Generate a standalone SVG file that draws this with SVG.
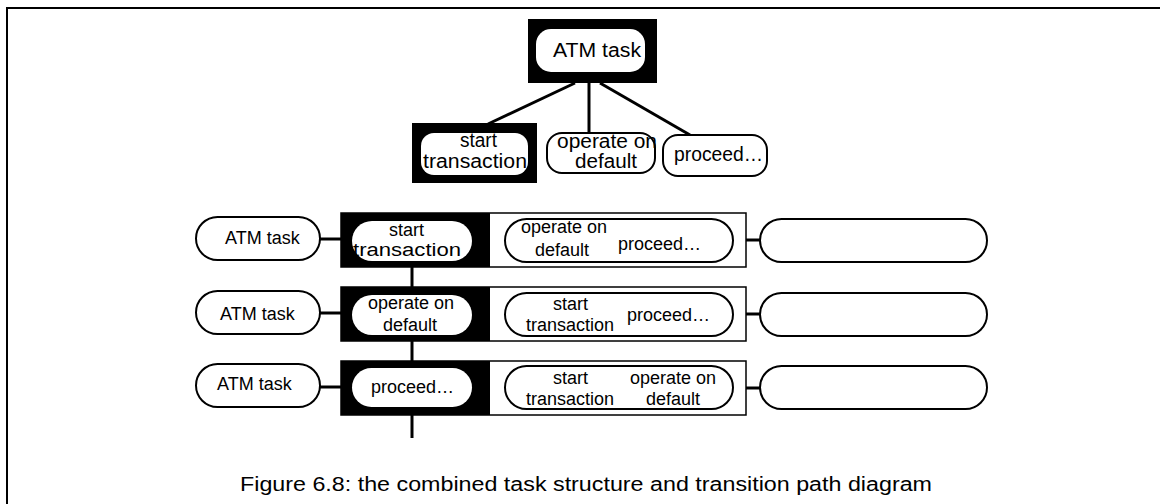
<svg xmlns="http://www.w3.org/2000/svg" width="1160" height="504" viewBox="0 0 1160 504">
<style>
text{font-family:"Liberation Sans",Arial,sans-serif;font-size:18px;fill:#000}
.big{font-size:20px}
.pill{fill:#fff;stroke:#000;stroke-width:2}
.wpill{fill:#fff;stroke:none}
.blk{fill:#000}
.box{fill:#fff;stroke:#000;stroke-width:1.5}
.con{stroke:#000;stroke-width:3;fill:none}
</style>
<rect width="1160" height="504" fill="#fff"/>
<path d="M7,504 V8 H1160" fill="none" stroke="#000" stroke-width="2"/>

<g id="connectors">
<line class="con" x1="575" y1="83" x2="488" y2="124"/>
<line class="con" x1="589" y1="83" x2="589" y2="133"/>
<line class="con" x1="600" y1="83" x2="690" y2="135"/>
<line class="con" x1="412" y1="267" x2="412" y2="287"/>
<line class="con" x1="412" y1="341" x2="412" y2="361"/>
<line class="con" x1="412" y1="415" x2="412" y2="438"/>
<line class="con" x1="320" y1="239" x2="341" y2="239"/>
<line class="con" x1="320" y1="313" x2="341" y2="313"/>
<line class="con" x1="320" y1="387" x2="341" y2="387"/>
<line class="con" x1="746" y1="240" x2="760" y2="240"/>
<line class="con" x1="746" y1="314" x2="760" y2="314"/>
<line class="con" x1="746" y1="388" x2="760" y2="388"/>
</g>

<g id="top-atm">
<rect class="blk" x="528" y="19" width="129" height="64"/>
<rect class="wpill" x="536" y="29" width="109" height="43" rx="15"/>
<text class="big" x="553" y="57" textLength="88" lengthAdjust="spacingAndGlyphs">ATM task</text>
</g>
<g id="top-start">
<rect class="blk" x="412" y="123" width="125" height="60"/>
<rect class="wpill" x="421" y="133" width="107" height="42" rx="13"/>
<text class="big" x="460" y="147" textLength="37" lengthAdjust="spacingAndGlyphs">start</text>
<text class="big" x="423" y="168" textLength="104" lengthAdjust="spacingAndGlyphs">transaction</text>
</g>
<g id="top-operate">
<rect class="pill" x="547" y="133" width="108" height="40" rx="15"/>
<text class="big" x="557" y="148" textLength="100" lengthAdjust="spacingAndGlyphs">operate on</text>
<text class="big" x="575" y="168" textLength="62" lengthAdjust="spacingAndGlyphs">default</text>
</g>
<g id="top-proceed">
<rect class="pill" x="663" y="135" width="104" height="41" rx="15"/>
<text class="big" x="674" y="161" textLength="89" lengthAdjust="spacingAndGlyphs">proceed…</text>
</g>

<g id="row1">
<rect class="pill" x="196" y="217" width="124" height="43" rx="21.5"/>
<text x="225" y="244">ATM task</text>
<rect class="box" x="341" y="213" width="405" height="54"/>
<rect class="blk" x="341" y="213" width="149" height="54"/>
<rect class="wpill" x="352" y="221" width="120" height="40" rx="20"/>
<text x="389" y="236">start</text>
<text x="353" y="256" textLength="108" lengthAdjust="spacingAndGlyphs">transaction</text>
<rect class="pill" x="505" y="219" width="228" height="43" rx="21.5"/>
<text x="521" y="233">operate on</text>
<text x="535" y="256">default</text>
<text x="618" y="250">proceed…</text>
<rect class="pill" x="760" y="219" width="227" height="43" rx="21.5"/>
</g>

<g id="row2">
<rect class="pill" x="196" y="291" width="124" height="43" rx="21.5"/>
<text x="220" y="320">ATM task</text>
<rect class="box" x="341" y="287" width="405" height="54"/>
<rect class="blk" x="341" y="287" width="149" height="54"/>
<rect class="wpill" x="352" y="295" width="120" height="40" rx="20"/>
<text x="368" y="309">operate on</text>
<text x="383" y="331">default</text>
<rect class="pill" x="505" y="293" width="228" height="43" rx="21.5"/>
<text x="553" y="310">start</text>
<text x="526" y="331">transaction</text>
<text x="627" y="321">proceed…</text>
<rect class="pill" x="760" y="293" width="227" height="43" rx="21.5"/>
</g>

<g id="row3">
<rect class="pill" x="196" y="364" width="124" height="43" rx="21.5"/>
<text x="217" y="390">ATM task</text>
<rect class="box" x="341" y="361" width="405" height="54"/>
<rect class="blk" x="341" y="361" width="149" height="54"/>
<rect class="wpill" x="352" y="368" width="120" height="39" rx="19.5"/>
<text x="371" y="393">proceed…</text>
<rect class="pill" x="505" y="366" width="228" height="43" rx="21.5"/>
<text x="553" y="384">start</text>
<text x="526" y="405">transaction</text>
<text x="630" y="384">operate on</text>
<text x="646" y="405">default</text>
<rect class="pill" x="760" y="366" width="227" height="43" rx="21.5"/>
</g>

<text id="caption" x="240" y="491" style="font-size:20px" textLength="692" lengthAdjust="spacingAndGlyphs">Figure 6.8: the combined task structure and transition path diagram</text>
</svg>
